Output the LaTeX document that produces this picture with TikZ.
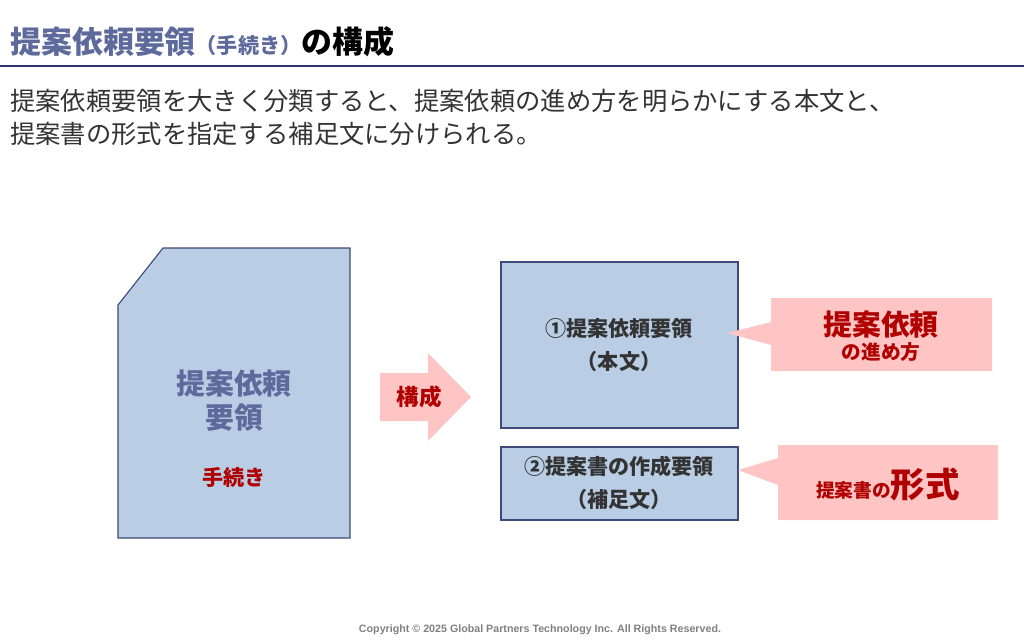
\documentclass[tikz,border=0pt]{standalone}
\usepackage{fontspec}
\setmainfont{Noto Sans CJK JP}
\newfontfamily\copyfont{Liberation Sans}
\definecolor{navy}{HTML}{2E3570}
\definecolor{slate}{HTML}{5E6A9C}
\definecolor{boxblue}{HTML}{B9CDE5}
\definecolor{boxline}{HTML}{3F4A7A}
\definecolor{pinkfill}{HTML}{FFC5C5}
\definecolor{darkred}{HTML}{B00000}
\definecolor{bodytext}{HTML}{333333}
\begin{document}
\begin{tikzpicture}[x=0.025cm,y=-0.025cm,
  bluebox/.style={draw=boxline,fill=boxblue,line width=0.8pt},
  calloutbox/.style={fill=pinkfill,draw=none},
  boxtext/.style={font=\bfseries\fontsize{15}{19}\selectfont,text=bodytext,align=center}]

\useasboundingbox (0,0) rectangle (1024,643);

% title
\node[anchor=west,inner sep=0pt] (title) at (10,42) {\bfseries\fontsize{22}{26}\selectfont\textcolor{slate}{提案依頼要領}\textcolor{slate}{\fontsize{15}{18}\selectfont（手続き）}の構成};
\draw[navy,line width=1.5pt] (0,66) -- (1024,66);
\node[anchor=west,inner sep=0pt,text=bodytext,align=left,font=\fontsize{18}{23.5}\selectfont] (lead) at (10,117) {提案依頼要領を大きく分類すると、提案依頼の進め方を明らかにする本文と、\\ 提案書の形式を指定する補足文に分けられる。};

% document
\draw[bluebox] (118,305) -- (163,248) -- (350,248) -- (350,538) -- (118,538) -- cycle;
\node[align=center,text=slate,font=\bfseries\fontsize{20.5}{24}\selectfont] (doc) at (234,401) {提案依頼\\要領};
\node[text=darkred,font=\bfseries\fontsize{15}{18}\selectfont] (proc) at (234,477) {手続き};

% block arrow
\fill[pinkfill] (380,373) -- (428,373) -- (428,353) -- (471,397) -- (428,441) -- (428,421) -- (380,421) -- cycle;
\node[text=darkred,font=\bfseries\fontsize{16}{19}\selectfont] (compose) at (419,397) {構成};

% boxes
\draw[bluebox] (501,262) rectangle (738,428);
\node[boxtext] (main) at (619,345) {①提案依頼要領\\[4pt]（本文）};
\draw[bluebox] (501,447) rectangle (738,520);
\node[boxtext] (supp) at (619,483) {②提案書の作成要領\\[4pt]（補足文）};

% callouts
\fill[calloutbox] (771,298) -- (992,298) -- (992,371) -- (771,371) -- (771,345) -- (727,333) -- (771,322) -- cycle;
\node[align=center,text=darkred,font=\bfseries] (how) at (881,336) {\fontsize{20.5}{24}\selectfont 提案依頼\\[2pt]\fontsize{14}{16}\selectfont の進め方};
\fill[calloutbox] (778,445) -- (998,445) -- (998,520) -- (778,520) -- (778,485) -- (738,470) -- (778,458) -- cycle;
\node[text=darkred,font=\bfseries] (form) at (888,484) {\fontsize{13.3}{16}\selectfont 提案書の\fontsize{24.5}{28}\selectfont 形式};

% footer
\node[text=gray,font=\copyfont\bfseries\fontsize{7.6}{9}\selectfont] (copy) at (540,630) {Copyright © 2025 Global Partners Technology Inc. All Rights Reserved.};
\end{tikzpicture}
\end{document}
